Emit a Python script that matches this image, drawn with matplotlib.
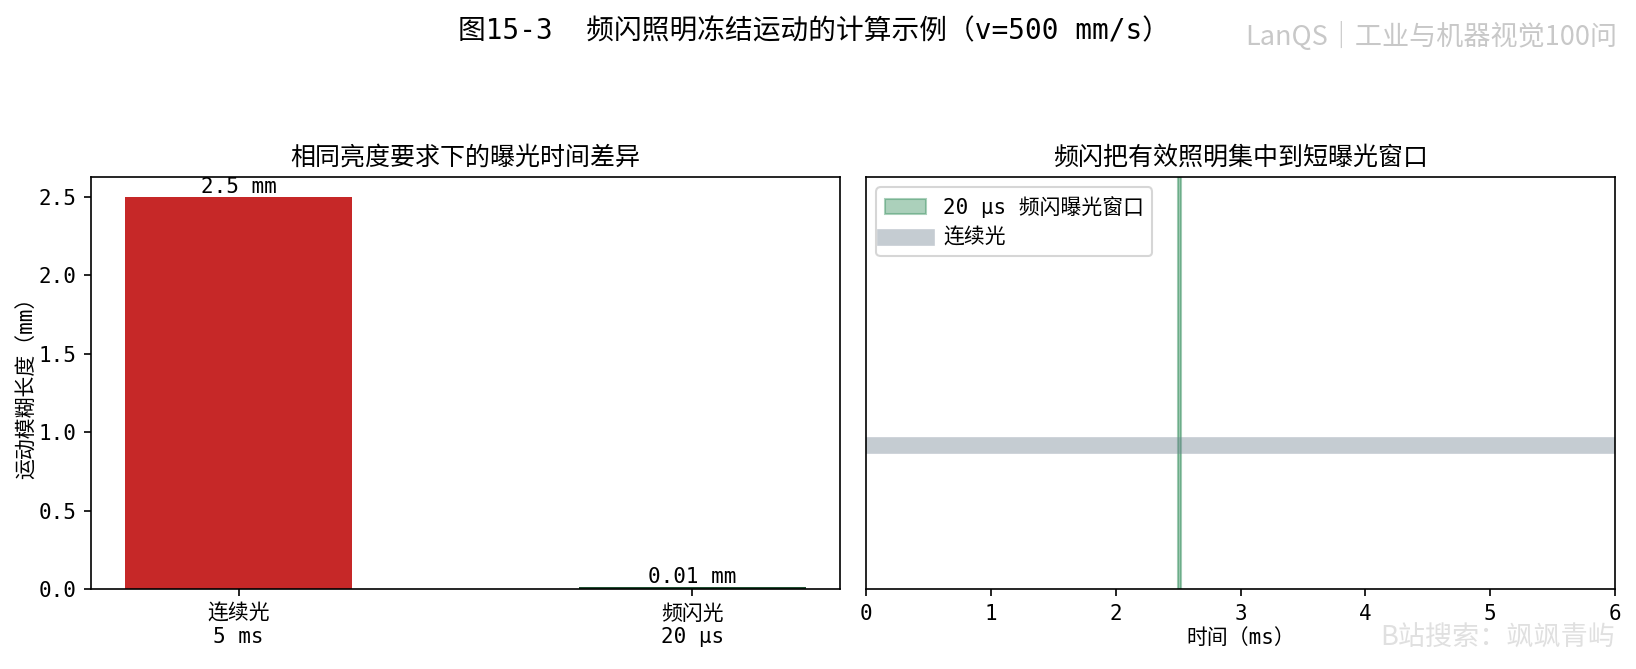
import matplotlib
matplotlib.use("Agg")
import matplotlib.pyplot as plt
from matplotlib.lines import Line2D
from matplotlib.patches import Patch

plt.rcParams['font.family'] = ['DejaVu Sans Mono', 'Noto Sans CJK SC']
plt.rcParams['axes.unicode_minus'] = False

# ---- data ----
categories = ["连续光\n5 ms", "频闪光\n20 μs"]
blur_mm = [2.5, 0.01]
bar_colors = ["#c62828", "#1f4f30"]

strobe_start_ms = 2.5
strobe_end_ms = 2.52
continuous_level = 0.35
time_ticks = [0, 1, 2, 3, 4, 5, 6]

W, H = 1636, 669
dpi = 150
fig = plt.figure(figsize=(W / dpi, H / dpi), dpi=dpi)

ax1 = fig.add_axes([91 / W, 80 / H, 749 / W, 412 / H])
ax2 = fig.add_axes([866 / W, 80 / H, 749 / W, 412 / H])

# ---- left: bar chart ----
xs = list(range(len(categories)))
ax1.bar(xs, blur_mm, width=0.5, color=bar_colors)
for x, v in zip(xs, blur_mm):
    ax1.text(x, v, f"{v:g} mm", ha="center", va="bottom", fontsize=10)
ax1.set_xticks(xs)
ax1.set_xticklabels(categories, fontsize=10)
ax1.tick_params(axis="y", labelsize=10)
ax1.set_ylabel("运动模糊长度（mm）", fontsize=10, labelpad=1)
ax1.set_title("相同亮度要求下的曝光时间差异", fontsize=12, pad=6)

# ---- right: timeline ----
ax2.axhline(continuous_level, color="slategray", alpha=0.4, linewidth=8)
ax2.axvspan(strobe_start_ms, strobe_end_ms, color="seagreen", alpha=0.45)
ax2.set_xlim(time_ticks[0], time_ticks[-1])
ax2.set_ylim(0, 1)
ax2.set_xticks(time_ticks)
ax2.tick_params(axis="x", labelsize=10)
ax2.set_yticks([])
ax2.set_xlabel("时间（ms）", fontsize=10, labelpad=2)
ax2.set_title("频闪把有效照明集中到短曝光窗口", fontsize=12, pad=6)
handles = [
    Patch(facecolor="seagreen", edgecolor="seagreen", alpha=0.4, label="20 μs 频闪曝光窗口"),
    Line2D([0], [0], color="slategray", alpha=0.4, linewidth=8, label="连续光"),
]
ax2.legend(handles=handles, loc="upper left", fontsize=10)

# ---- titles & watermarks ----
fig.text(814 / W, 1 - 31 / H, "图15-3  频闪照明冻结运动的计算示例（v=500 mm/s）",
         ha="center", va="center", fontsize=13.3)
fig.text(1617 / W, 1 - 37 / H, "LanQS｜工业与机器视觉100问",
         ha="right", va="center", fontsize=13, color="#c8c8c8",
         family=["Noto Sans CJK SC", "DejaVu Sans"])
fig.text(1615 / W, 1 - 638 / H, "B站搜索：飒飒青屿",
         ha="right", va="center", fontsize=13, color="#e0e0e0",
         family=["Noto Sans CJK SC", "DejaVu Sans"])

fig.savefig("out.png", dpi=dpi)
